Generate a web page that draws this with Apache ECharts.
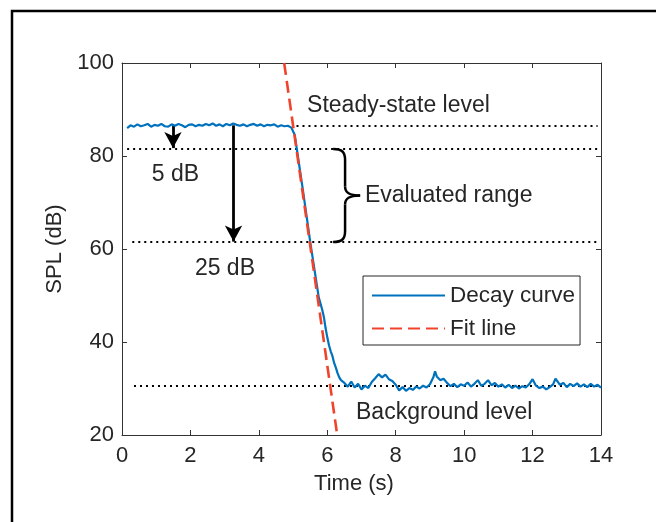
<!DOCTYPE html>
<html>
<head>
<meta charset="utf-8">
<script src="https://cdn.jsdelivr.net/npm/echarts@6/dist/echarts.min.js"></script>
<style>
  html, body { margin: 0; padding: 0; background: #fff; overflow: hidden; }
  #decayChart { width: 656px; height: 522px; }
</style>
</head>
<body>
<div id="decayChart"></div>
<script>
// measured decay curve (time in s, SPL in dB)
const decayTime = [
  0.15, 0.25, 0.35, 0.45, 0.55, 0.65, 0.75, 0.85, 0.95, 1.05,
  1.15, 1.25, 1.35, 1.45, 1.55, 1.65, 1.75, 1.85, 1.95, 2.05,
  2.15, 2.25, 2.35, 2.45, 2.55, 2.65, 2.75, 2.85, 2.95, 3.05,
  3.15, 3.25, 3.35, 3.45, 3.55, 3.65, 3.75, 3.85, 3.95, 4.05,
  4.15, 4.25, 4.35, 4.45, 4.55, 4.65, 4.75, 4.85, 4.95, 5.0,
  5.05, 5.12, 5.2, 5.3, 5.4, 5.5, 5.6, 5.7, 5.75, 5.8,
  5.85, 5.9, 5.95, 6.0, 6.05, 6.1, 6.15, 6.2, 6.25, 6.3,
  6.35, 6.4, 6.5, 6.6, 6.7, 6.8, 6.9, 7.0, 7.1, 7.2,
  7.3, 7.4, 7.5, 7.6, 7.7, 7.8, 7.9, 8.0, 8.1, 8.2,
  8.3, 8.4, 8.5, 8.6, 8.7, 8.8, 8.9, 9.0, 9.1, 9.15,
  9.2, 9.3, 9.4, 9.5, 9.6, 9.7, 9.8, 9.9, 10.0, 10.1,
  10.2, 10.3, 10.4, 10.5, 10.6, 10.7, 10.8, 10.9, 11.0, 11.1,
  11.2, 11.3, 11.4, 11.5, 11.6, 11.7, 11.8, 11.9, 12.0, 12.1,
  12.2, 12.3, 12.4, 12.5, 12.6, 12.67, 12.75, 12.8, 12.9, 13.0,
  13.1, 13.2, 13.3, 13.4, 13.5, 13.6, 13.7, 13.8, 13.9, 14.0
];
const decaySPL = [
  86.0, 86.6, 86.3, 86.8, 86.4, 86.6, 86.9, 86.3, 86.7, 86.5,
  86.9, 86.4, 86.3, 86.8, 86.5, 86.9, 86.6, 86.2, 86.7, 86.8,
  86.4, 86.7, 86.5, 86.9, 86.6, 87.0, 86.5, 86.8, 86.4, 86.9,
  86.6, 87.0, 86.7, 86.5, 86.8, 86.4, 86.7, 86.9, 86.5, 86.8,
  86.4, 86.7, 86.6, 86.8, 86.3, 86.6, 86.4, 86.5, 86.1, 86.3,
  84.5, 81.0, 77.0, 72.0, 66.8, 61.6, 56.8, 52.0, 49.6, 48.3,
  47.0, 45.4, 43.0, 41.0, 39.3, 38.0, 37.0, 35.5, 34.5, 33.3,
  32.4, 31.8, 31.2, 30.4, 31.5, 30.2, 31.0, 29.8, 30.6, 30.1,
  31.4, 32.2, 33.1, 32.4, 33.0, 32.0, 31.6, 30.8, 29.6, 30.3,
  29.5, 30.1, 29.7, 30.4, 30.0, 30.6, 30.2, 30.9, 32.4, 33.7,
  32.6, 31.8, 32.1, 31.2, 30.5, 31.0, 30.3, 30.9, 30.6, 31.3,
  30.4, 31.0, 31.8, 30.6, 31.0, 31.8, 30.7, 31.2, 30.4, 30.9,
  30.2, 30.8, 30.1, 30.6, 30.0, 30.5, 30.2, 30.9, 32.0, 30.6,
  30.1, 30.4, 29.8, 30.3, 30.9, 32.1, 31.3, 30.8, 31.2, 30.3,
  31.0, 30.5, 31.1, 30.4, 30.9, 30.3, 31.0, 30.4, 30.8, 30.2
];

// straight-line fit through the evaluated range
const fitTime = [4.74, 6.29];
const fitSPL = [100, 20];

// dotted reference levels
const levelSPL = [86.5, 81.5, 61.5, 30.6];
const levelStart = [5.1, 0.15, 0.3, 0.35];
const levelEnd = 13.9;

// arrows for 5 dB and 25 dB below steady state
const arrowTime = [1.49, 3.26];
const arrowFrom = 86.6;
const arrowTo = [81.7, 61.6];

const xTicks = { min: 0, max: 14, interval: 2 };
const yTicks = { min: 20, max: 100, interval: 20 };

const FONT = 'Liberation Sans, Arial, sans-serif';
const INK = '#262626';

let myChart = echarts.init(document.getElementById('decayChart'));

const baseAxis = {
  type: 'value',
  splitLine: { show: false },
  axisLine: { show: true, onZero: false, lineStyle: { color: '#333', width: 1 } },
  axisTick: { show: true, inside: true, length: 5, lineStyle: { color: '#333' } },
  axisLabel: { color: INK, fontSize: 22, fontFamily: FONT }
};

myChart.setOption({
  animation: false,
  backgroundColor: '#fff',
  grid: { left: 122, right: 55, top: 63, bottom: 87, containLabel: false },
  legend: {
    data: ['Decay curve', 'Fit line'],
    orient: 'vertical',
    left: 363,
    top: 276,
    padding: [8, 5, 5, 8],
    itemGap: 10,
    itemWidth: 73,
    itemHeight: 14,
    borderColor: INK,
    borderWidth: 1,
    borderRadius: 0,
    backgroundColor: '#fff',
    itemStyle: { opacity: 0 },
    textStyle: { color: INK, fontSize: 22.5, fontFamily: FONT }
  },
  xAxis: [
    Object.assign({}, baseAxis, xTicks, {
      position: 'bottom',
      name: 'Time (s)',
      nameLocation: 'middle',
      nameGap: 38,
      nameTextStyle: { color: INK, fontSize: 22, fontFamily: FONT, padding: [0, 15, 0, 0] },
      axisLabel: Object.assign({}, baseAxis.axisLabel, { margin: 10 })
    }),
    Object.assign({}, baseAxis, xTicks, { position: 'top', axisLabel: { show: false } })
  ],
  yAxis: [
    Object.assign({}, baseAxis, yTicks, {
      position: 'left',
      name: 'SPL (dB)',
      nameLocation: 'middle',
      nameGap: 47,
      nameTextStyle: { color: INK, fontSize: 22, fontFamily: FONT },
      axisLabel: Object.assign({}, baseAxis.axisLabel, { margin: 8 })
    }),
    Object.assign({}, baseAxis, yTicks, { position: 'right', axisLabel: { show: false } })
  ],
  series: [
    {
      name: 'levels',
      type: 'line',
      data: [],
      silent: true,
      markLine: {
        silent: true,
        z: 1,
        symbol: ['none', 'none'],
        label: { show: false },
        lineStyle: { color: '#000', width: 1.8, type: [2, 4] },
        data: levelSPL.map((v, i) => [{ coord: [levelStart[i], v] }, { coord: [levelEnd, v] }])
      }
    },
    {
      name: 'arrows',
      type: 'line',
      data: [],
      silent: true,
      markLine: {
        silent: true,
        z: 1,
        symbol: ['none', 'arrow'],
        symbolSize: [13, 16],
        label: { show: false },
        lineStyle: { color: '#000', width: 2.8, type: 'solid' },
        data: arrowTime.map((t, i) => [{ coord: [t, arrowFrom] }, { coord: [t, arrowTo[i]] }])
      }
    },
    {
      name: 'Decay curve',
      type: 'line',
      showSymbol: false,
      symbol: 'none',
      color: '#0072bd',
      lineStyle: { color: '#0072bd', width: 2.2 },
      data: decayTime.map((t, i) => [t, decaySPL[i]])
    },
    {
      name: 'Fit line',
      type: 'line',
      showSymbol: false,
      symbol: 'none',
      color: '#f0432c',
      lineStyle: { color: '#f0432c', width: 2.6, type: [12, 6] },
      data: fitTime.map((t, i) => [t, fitSPL[i]])
    }
  ]
});

// text labels and the brace, placed in data coordinates
const notes = [
  { text: 'Steady-state level', t: 5.41, v: 90.8 },
  { text: '5 dB', t: 0.87, v: 75.9 },
  { text: '25 dB', t: 2.13, v: 55.7 },
  { text: 'Evaluated range', t: 7.1, v: 71.5 },
  { text: 'Background level', t: 6.84, v: 24.8 }
];
const toPx = (t, v) => myChart.convertToPixel({ gridIndex: 0 }, [t, v]);

const graphics = notes.map(n => {
  const p = toPx(n.t, n.v);
  return {
    type: 'text', x: p[0], y: p[1], z: 10,
    style: { text: n.text, fill: INK, fontSize: 23, fontFamily: FONT, align: 'left', verticalAlign: 'middle' }
  };
});

// curly brace spanning the evaluated range (81.5 to 61.5 dB)
const bTop = toPx(6.17, 81.5), bBot = toPx(6.17, 61.5), bMid = toPx(6.52, 71.5), bTip = toPx(6.96, 71.5);
const x0 = bTop[0], xv = bMid[0], xt = bTip[0], yt = bTop[1], yb = bBot[1], ym = bMid[1];
const braceStyle = { stroke: '#000', lineWidth: 2.5, fill: null };
const braceParts = [
  { type: 'bezierCurve', shape: { x1: x0, y1: yt, cpx1: x0 + 9, cpy1: yt, cpx2: xv, cpy2: yt + 3, x2: xv, y2: yt + 11 } },
  { type: 'line', shape: { x1: xv, y1: yt + 11, x2: xv, y2: ym - 9 } },
  { type: 'bezierCurve', shape: { x1: xv, y1: ym - 9, cpx1: xv, cpy1: ym - 3, cpx2: xv + 4, cpy2: ym, x2: xt, y2: ym } },
  { type: 'bezierCurve', shape: { x1: xt, y1: ym, cpx1: xv + 4, cpy1: ym, cpx2: xv, cpy2: ym + 3, x2: xv, y2: ym + 9 } },
  { type: 'line', shape: { x1: xv, y1: ym + 9, x2: xv, y2: yb - 11 } },
  { type: 'bezierCurve', shape: { x1: xv, y1: yb - 11, cpx1: xv, cpy1: yb - 3, cpx2: x0 + 9, cpy2: yb, x2: x0, y2: yb } }
];
braceParts.forEach(p => graphics.push(Object.assign(p, { z: 10, style: braceStyle })));

// cropped outer frame (top and left edges only)
graphics.push({
  type: 'polyline',
  shape: { points: [[12, 522], [12, 11], [656, 11]] },
  style: { stroke: '#000', lineWidth: 2.5, fill: null }
});

myChart.setOption({ graphic: graphics });
</script>
</body>
</html>
